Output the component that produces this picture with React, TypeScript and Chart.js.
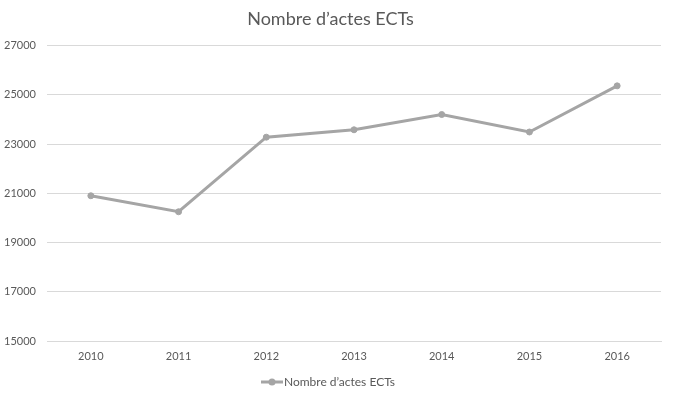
import React, { useEffect, useRef } from "react";
import { Chart, registerables } from "chart.js";

Chart.register(...registerables);

const years = ["2010", "2011", "2012", "2013", "2014", "2015", "2016"];
const actes = [20900, 20250, 23280, 23580, 24200, 23490, 25365];
const seriesName = "Nombre d\u2019actes ECTs";
const titleText = "Nombre d\u2019actes ECTs";

function legendMarker(): HTMLCanvasElement {
  const c = document.createElement("canvas");
  c.width = 22;
  c.height = 8;
  const g = c.getContext("2d")!;
  g.strokeStyle = "#A5A5A5";
  g.lineWidth = 3;
  g.beginPath();
  g.moveTo(0, 4);
  g.lineTo(22, 4);
  g.stroke();
  g.fillStyle = "#A5A5A5";
  g.beginPath();
  g.arc(11, 4, 3.5, 0, Math.PI * 2);
  g.fill();
  return c;
}

export default function App() {
  const ref = useRef<HTMLCanvasElement | null>(null);
  useEffect(() => {
    document.body.style.margin = "0";
    const marker = legendMarker();
    const ctx = ref.current!.getContext("2d")!;
    const chart = new Chart(ctx, {
      type: "line",
      data: {
        labels: years,
        datasets: [
          {
            label: seriesName,
            data: actes,
            borderColor: "#A5A5A5",
            backgroundColor: "#A5A5A5",
            borderWidth: 3,
            pointRadius: 3,
            pointBackgroundColor: "#A5A5A5",
            pointBorderColor: "#A5A5A5",
            pointBorderWidth: 1,
            tension: 0,
          },
        ],
      },
      options: {
        animation: false,
        responsive: false,
        layout: { padding: { left: 0, right: 13, top: 0, bottom: 0 } },
        plugins: {
          title: {
            display: true,
            text: titleText,
            color: "#595959",
            font: { family: "Lato", size: 18, weight: "normal" },
            padding: { top: 8, bottom: 16 },
          },
          legend: {
            position: "bottom",
            labels: {
              color: "#595959",
              font: { family: "Lato", size: 12 },
              usePointStyle: true,
              boxWidth: 22,
              boxHeight: 8,
              padding: 10,
              generateLabels: (ch: any) => {
                const items = Chart.defaults.plugins.legend.labels.generateLabels(ch);
                return items.map((it: any) => ({ ...it, pointStyle: marker }));
              },
            },
          },
          tooltip: { enabled: false },
        },
        scales: {
          x: {
            offset: true,
            grid: { display: false, drawTicks: false },
            border: { display: true, color: "#D9D9D9" },
            ticks: {
              color: "#595959",
              font: { family: "Lato", size: 11 },
              padding: 9,
            },
            afterFit: (s: any) => {
              s.height = 25;
            },
          },
          y: {
            min: 15000,
            max: 27000,
            grid: { color: "#D9D9D9", drawTicks: false },
            border: { display: false },
            ticks: {
              stepSize: 2000,
              color: "#595959",
              font: { family: "Lato", size: 11 },
              padding: 11,
              callback: (v: any) => String(v),
            },
            afterFit: (s: any) => {
              s.width = 47;
            },
          },
        },
      },
    });
    return () => chart.destroy();
  }, []);
  return (
    <div style={{ width: 674, height: 398, background: "#fff" }}>
      <canvas ref={ref} width={674} height={398} style={{ display: "block" }} />
    </div>
  );
}
